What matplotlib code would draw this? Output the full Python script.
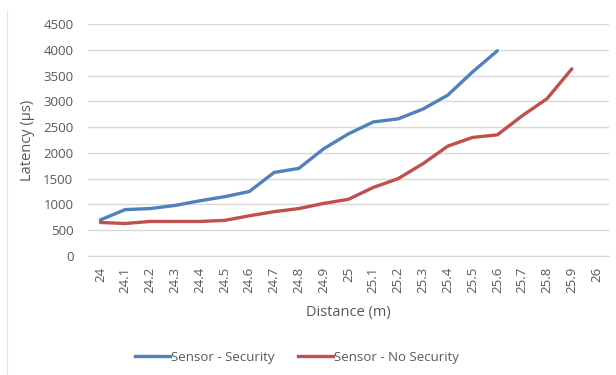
import numpy as np
import matplotlib.pyplot as plt
from matplotlib.lines import Line2D

plt.rcParams['font.family'] = ['Open Sans', 'DejaVu Sans']

# distance categories (m)
distance = ['24', '24.1', '24.2', '24.3', '24.4', '24.5', '24.6', '24.7', '24.8', '24.9',
            '25', '25.1', '25.2', '25.3', '25.4', '25.5', '25.6', '25.7', '25.8', '25.9', '26']

# latency in microseconds, nan where not measured
latency_security = [700, 900, 920, 980, 1070, 1150, 1250, 1620, 1700, 2080,
                    2370, 2600, 2660, 2850, 3120, 3570, 3980, np.nan, np.nan, np.nan, np.nan]
latency_no_security = [650, 630, 670, 670, 670, 690, 780, 860, 920, 1020,
                       1100, 1330, 1500, 1790, 2130, 2300, 2350, 2720, 3050, 3630, np.nan]

blue = '#4F81BD'
red = '#C0504D'
grey = '#595959'

fig = plt.figure(figsize=(6.16, 3.75), dpi=100)
ax = fig.add_axes([88/616, 1 - 256/375, 521/616, 232/375])

x = np.arange(len(distance))
ax.plot(x, latency_security, color=blue, lw=2.4, solid_capstyle='round', solid_joinstyle='round')
ax.plot(x, latency_no_security, color=red, lw=2.4, solid_capstyle='round', solid_joinstyle='round')

ax.set_xlim(-0.5, len(distance) - 0.5)
ax.set_ylim(0, 4500)
ax.set_yticks(np.arange(0, 4501, 500))
ax.set_xticks(x)
ax.set_xticklabels(distance, rotation=90, va='top')
ax.yaxis.grid(True, color='#D9D9D9', lw=1)
ax.set_axisbelow(True)
for side in ['left', 'right', 'top']:
    ax.spines[side].set_visible(False)
ax.spines['bottom'].set_color('#D9D9D9')
ax.tick_params(axis='both', length=0, colors=grey, labelsize=9.5)
ax.tick_params(axis='y', pad=10.5)
ax.tick_params(axis='x', pad=8)

ax.set_ylabel('Latency (µs)', color=grey, fontsize=10.5, labelpad=6)
ax.set_xlabel('Distance (m)', color=grey, fontsize=10.5, labelpad=8)

handles = [Line2D([], [], color=blue, lw=2.4), Line2D([], [], color=red, lw=2.4)]
fig.legend(handles, ['Sensor - Security', 'Sensor - No Security'], loc='center',
           bbox_to_anchor=(297/616, 1 - 357/375), ncol=2, frameon=False,
           fontsize=9.5, labelcolor=grey, handlelength=2.65, handletextpad=0.1,
           columnspacing=1.75)

# thin frame edge on the left
fig.add_artist(Line2D([7/616, 7/616], [0, 1 - 10/375], color='#E6E6E6', lw=0.8))

fig.savefig('out.png', dpi=100)
